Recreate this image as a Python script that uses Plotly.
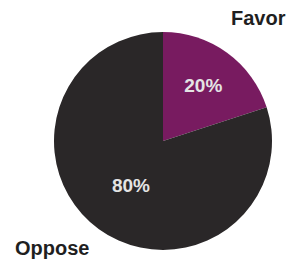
import plotly.graph_objects as go

labels = ["Favor", "Oppose"]
values = [20, 80]
colors = ["#781b60", "#2a2728"]

W, H = 294, 262
off = 8  # page body margin shift
cx, cy, r = 163 - off, 141 - off, 109

fig = go.Figure(go.Pie(
    labels=labels,
    values=values,
    sort=False,
    direction="clockwise",
    rotation=0,
    marker=dict(colors=colors, line=dict(width=0)),
    textinfo="percent",
    texttemplate="%{percent:.0%}",
    textposition="inside",
    insidetextorientation="horizontal",
    insidetextfont=dict(family="Liberation Sans", size=19, color="#e4e4e4", weight="bold"),
    domain=dict(x=[(cx - r) / W, (cx + r) / W], y=[1 - (cy + r) / H, 1 - (cy - r) / H]),
    showlegend=False,
    hoverinfo="label+percent",
))

fig.add_annotation(text="<b>Favor</b>", x=(259 - off) / W, y=1 - (18 - off) / H,
                   xref="paper", yref="paper", xanchor="center", yanchor="middle",
                   showarrow=False, font=dict(family="Liberation Sans", size=20, color="#1f1f1f"))
fig.add_annotation(text="<b>Oppose</b>", x=(52 - off) / W, y=1 - (248 - off) / H,
                   xref="paper", yref="paper", xanchor="center", yanchor="middle",
                   showarrow=False, font=dict(family="Liberation Sans", size=20, color="#1f1f1f"))

fig.update_layout(width=W, height=H, margin=dict(l=0, r=0, t=0, b=0),
                  paper_bgcolor="white", plot_bgcolor="white")
fig.write_html("out.html")
